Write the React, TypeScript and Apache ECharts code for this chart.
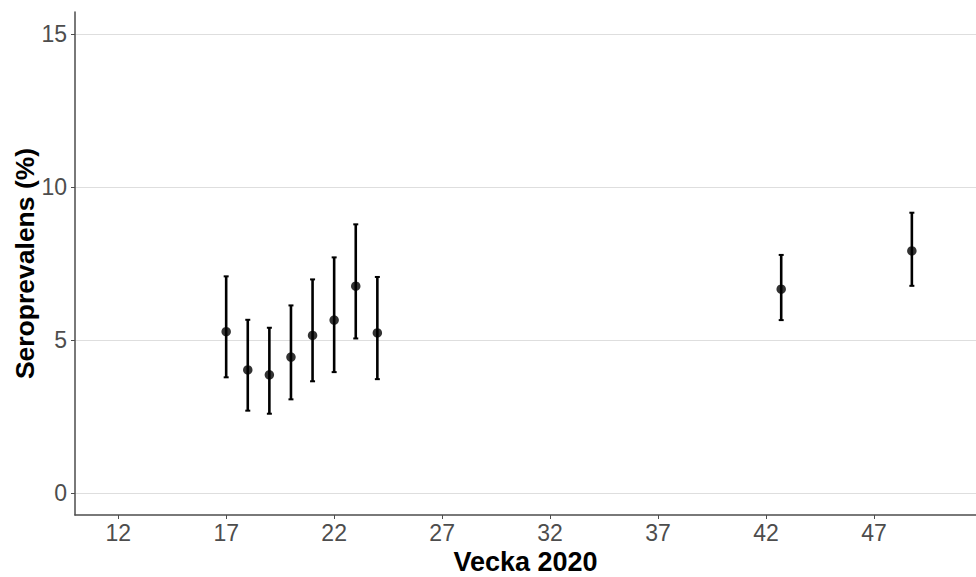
import React, { useEffect, useRef } from "react";
import * as echarts from "echarts";

const weeks = [17, 18, 19, 20, 21, 22, 23, 24, 42.7, 48.75];
const estimate = [5.27, 4.02, 3.86, 4.44, 5.15, 5.65, 6.76, 5.23, 6.66, 7.91];
const lower = [3.78, 2.69, 2.59, 3.06, 3.65, 3.95, 5.05, 3.72, 5.65, 6.77];
const upper = [7.08, 5.66, 5.4, 6.13, 6.98, 7.7, 8.78, 7.06, 7.78, 9.16];
const xTicks = [12, 17, 22, 27, 32, 37, 42, 47];
const yTicks = [0, 5, 10, 15];

const FONT = "'Liberation Sans', Arial, sans-serif";

export default function App() {
  const ref = useRef<HTMLDivElement>(null);
  useEffect(() => {
    if (!ref.current) return;
    const chart = echarts.init(ref.current, null, { renderer: "svg" });
    const errData = weeks.map((w, i) => [w, lower[i], upper[i]]);
    const ptData = weeks.map((w, i) => [w, estimate[i]]);
    chart.setOption({
      animation: false,
      backgroundColor: "#ffffff",
      grid: { left: 75, right: 0, top: 12, bottom: 62, containLabel: false, outerBoundsMode: "none" },
      xAxis: {
        type: "value",
        min: 10,
        max: 51.72,
        name: "Vecka 2020",
        nameLocation: "middle",
        nameGap: 33,
        nameMoveOverlap: false,
        nameTextStyle: { fontFamily: FONT, fontSize: 27, fontWeight: "bold", color: "#000" },
        axisLine: { show: true, onZero: false, lineStyle: { color: "#4d4d4d", width: 1.5 } },
        axisTick: { show: true, customValues: xTicks, length: 4, lineStyle: { color: "#4d4d4d", width: 1 } },
        axisLabel: { customValues: xTicks, margin: 6, fontFamily: FONT, fontSize: 23, color: "#4d4d4d" },
        splitLine: { show: false },
      },
      yAxis: {
        type: "value",
        min: -0.72,
        max: 15.72,
        name: "Seroprevalens (%)",
        nameLocation: "middle",
        nameRotate: 90,
        nameGap: 37,
        nameMoveOverlap: false,
        nameTextStyle: { fontFamily: FONT, fontSize: 26.5, fontWeight: "bold", color: "#000" },
        axisLine: { show: true, onZero: false, lineStyle: { color: "#4d4d4d", width: 1.5 } },
        axisTick: { show: true, customValues: yTicks, length: 4, lineStyle: { color: "#4d4d4d", width: 1 } },
        axisLabel: { customValues: yTicks, margin: 8, fontFamily: FONT, fontSize: 23, color: "#4d4d4d" },
        splitLine: { show: true, lineStyle: { color: "#dedede", width: 1 } },
      },
      series: [
        {
          type: "custom",
          data: errData,
          renderItem: (params: any, api: any) => {
            const x = api.value(0);
            const lo = api.coord([x, api.value(1)]);
            const hi = api.coord([x, api.value(2)]);
            const cap = 2.5;
            const st = { stroke: "#000", lineWidth: 2.6 };
            return {
              type: "group",
              children: [
                { type: "line", shape: { x1: lo[0], y1: lo[1], x2: hi[0], y2: hi[1] }, style: st },
                { type: "line", shape: { x1: lo[0] - cap, y1: lo[1], x2: lo[0] + cap, y2: lo[1] }, style: { stroke: "#000", lineWidth: 2 } },
                { type: "line", shape: { x1: hi[0] - cap, y1: hi[1], x2: hi[0] + cap, y2: hi[1] }, style: { stroke: "#000", lineWidth: 2 } },
              ],
            };
          },
          z: 2,
        },
        {
          type: "scatter",
          data: ptData,
          symbol: "circle",
          symbolSize: 9.5,
          itemStyle: { color: "#000" },
          z: 3,
        },
      ],
    });
    return () => chart.dispose();
  }, []);
  return (
    <div
      ref={ref}
      style={{ position: "fixed", left: 0, top: 0, width: 976, height: 577, background: "#fff" }}
    />
  );
}
